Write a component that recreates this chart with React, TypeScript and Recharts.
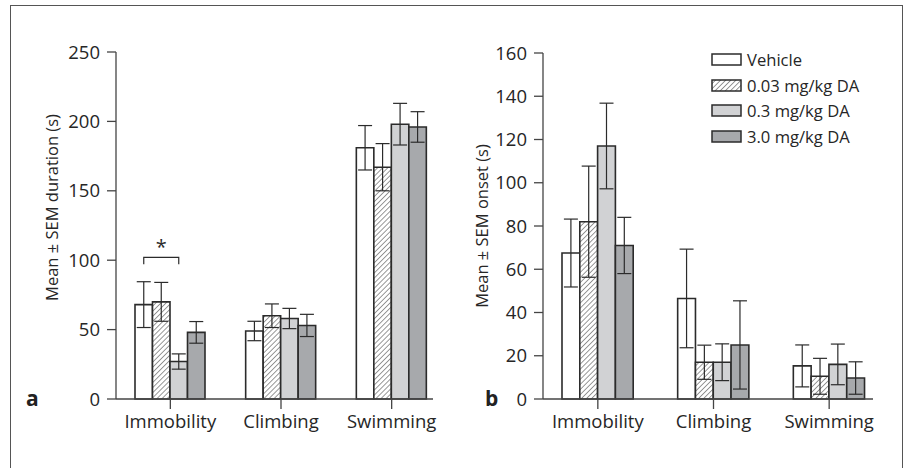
import React from 'react';
import { BarChart, Bar, XAxis, YAxis, ErrorBar, LabelList } from 'recharts';

const categories = ['Immobility', 'Climbing', 'Swimming'];
const groupNames = ['Vehicle', '0.03 mg/kg DA', '0.3 mg/kg DA', '3.0 mg/kg DA'];

// duration (s), panel a
const durVehicle = [68, 49, 181];
const durVehicleSem = [16.5, 7, 16];
const durLow = [70, 60, 167];
const durLowSem = [14, 8.5, 17];
const durMid = [27, 58, 198];
const durMidSem = [5.5, 7.3, 15];
const durHigh = [48, 53, 196];
const durHighSem = [7.8, 8, 11];

// onset (s), panel b
const onsVehicle = [67.5, 46.5, 15.3];
const onsVehicleSem = [15.7, 22.8, 9.7];
const onsLow = [82, 17, 10.5];
const onsLowSem = [25.7, 7.9, 8.3];
const onsMid = [117, 17, 16];
const onsMidSem = [19.8, 8.5, 9.4];
const onsHigh = [71, 25, 9.7];
const onsHighSem = [13, 20.4, 7.5];

const durTicks = [0, 50, 100, 150, 200, 250];
const onsTicks = [0, 20, 40, 60, 80, 100, 120, 140, 160];

const keys = ['vehicle', 'low', 'mid', 'high'];
const fills = ['#ffffff', 'url(#hatch)', '#d1d2d4', '#a7a9ac'];

const durData = categories.map((name, i) => ({
  name,
  vehicle: durVehicle[i], vehicleErr: durVehicleSem[i],
  low: durLow[i], lowErr: durLowSem[i],
  mid: durMid[i], midErr: durMidSem[i],
  high: durHigh[i], highErr: durHighSem[i],
}));

const onsData = categories.map((name, i) => ({
  name,
  vehicle: onsVehicle[i], vehicleErr: onsVehicleSem[i],
  low: onsLow[i], lowErr: onsLowSem[i],
  mid: onsMid[i], midErr: onsMidSem[i],
  high: onsHigh[i], highErr: onsHighSem[i],
}));

const FONT = '"Open Sans", sans-serif';
const INK = '#2b2b2b';
const AXIS = '#444';
const TEXT = '#262626';

const tickStyle = { fontSize: 18.5, fill: TEXT, fontFamily: FONT };

// significance bracket between vehicle and 0.3 mg/kg on Immobility
const Bracket = (props: any) => {
  const { x, y, width, height, value, index } = props;
  if (index !== 0) return null;
  const perUnit = height / value;
  const zeroY = y + height;
  const top = zeroY - 102 * perUnit;
  const leg = zeroY - 97 * perUnit;
  const x1 = x + width / 2;
  const x2 = x + width * 2.5;
  return (
    <g>
      <path d={`M${x1},${leg} L${x1},${top} L${x2},${top} L${x2},${leg}`} fill="none" stroke={INK} strokeWidth={1.2} />
      <text x={(x1 + x2) / 2} y={top - 3} textAnchor="middle" fontSize={20} fontFamily={FONT} fill={INK}>*</text>
    </g>
  );
};

const LegendBox = () => (
  <div style={{ position: 'absolute', left: 711, top: 47, fontFamily: FONT, fontSize: 16.6, color: TEXT, lineHeight: '25.5px' }}>
    {groupNames.map((g, i) => (
      <div key={g} style={{ display: 'flex', alignItems: 'center', height: 25.5 }}>
        <svg width={31} height={13} style={{ marginRight: 5 }}>
          <rect x={1} y={1} width={29} height={11} fill={fills[i]} stroke={INK} strokeWidth={1.5} />
        </svg>
        <span>{g}</span>
      </div>
    ))}
  </div>
);

const yLabel = (text: string, dxLabel: number, dyLabel: number) => (props: any) => {
  const { viewBox } = props;
  const cx = viewBox.x + dxLabel;
  const cy = viewBox.y + viewBox.height / 2 + dyLabel;
  return (
    <text x={cx} y={cy} transform={`rotate(-90, ${cx}, ${cy})`} textAnchor="middle" dominantBaseline="central"
      fontSize={16.5} fontFamily={FONT} fill={TEXT}>{text}</text>
  );
};

const bars = (withBracket: boolean) =>
  keys.map((k, i) => (
    <Bar key={k} dataKey={k} fill={fills[i]} stroke={INK} strokeWidth={1.6} isAnimationActive={false}>
      <ErrorBar dataKey={`${k}Err`} width={7} stroke={INK} strokeWidth={1.2} direction="y" isAnimationActive={false} />
      {withBracket && k === 'vehicle' ? <LabelList dataKey={k} content={Bracket} /> : null}
    </Bar>
  ));

export default function App() {
  return (
    <div style={{ position: 'absolute', left: 0, top: 0, width: 912, height: 468, overflow: 'hidden', background: '#fff' }}>
      <svg width={0} height={0} style={{ position: 'absolute' }}>
        <defs>
          <pattern id="hatch" patternUnits="userSpaceOnUse" width={3.6} height={3.6} patternTransform="rotate(45)">
            <rect width={3.6} height={3.6} fill="#fff" />
            <line x1={0} y1={0} x2={0} y2={3.6} stroke="#333" strokeWidth={1} />
          </pattern>
        </defs>
      </svg>

      <div style={{ position: 'absolute', left: 10, top: 5, width: 891, height: 480, border: '1px solid #555' }} />

      <div style={{ position: 'absolute', left: 0, top: 0 }}>
        <BarChart width={460} height={468} data={durData} barGap={0} barSize={17.5}
          margin={{ top: 52, right: 27, left: 40, bottom: 29 }}>
          <XAxis dataKey="name" tick={tickStyle} tickSize={10} tickMargin={6} padding={{ left: -1, right: -14 }}
            axisLine={{ stroke: AXIS, strokeWidth: 1.3 }} tickLine={{ stroke: AXIS, strokeWidth: 1.3 }} height={40} interval={0} />
          <YAxis domain={[0, 250]} ticks={durTicks} width={76} tick={tickStyle} tickSize={9} tickMargin={7}
            axisLine={{ stroke: AXIS, strokeWidth: 1.3 }} tickLine={{ stroke: AXIS, strokeWidth: 1.3 }}
            label={{ content: yLabel('Mean ± SEM duration (s)', 11, -18) }} />
          {bars(true)}
        </BarChart>
      </div>

      <div style={{ position: 'absolute', left: 460, top: 0 }}>
        <BarChart width={452} height={468} data={onsData} barGap={0} barSize={17.8}
          margin={{ top: 53, right: 39, left: 7, bottom: 29 }}>
          <XAxis dataKey="name" tick={tickStyle} tickSize={10} tickMargin={6} padding={{ left: -3, right: -14 }}
            axisLine={{ stroke: AXIS, strokeWidth: 1.3 }} tickLine={{ stroke: AXIS, strokeWidth: 1.3 }} height={40} interval={0} />
          <YAxis domain={[0, 160]} ticks={onsTicks} width={76} tick={tickStyle} tickSize={9} tickMargin={7}
            axisLine={{ stroke: AXIS, strokeWidth: 1.3 }} tickLine={{ stroke: AXIS, strokeWidth: 1.3 }}
            label={{ content: yLabel('Mean ± SEM onset (s)', 14, 0) }} />
          {bars(false)}
        </BarChart>
      </div>

      <LegendBox />

      <div style={{ position: 'absolute', left: 26, top: 384, fontFamily: FONT, fontWeight: 700, fontSize: 21, color: '#222' }}>a</div>
      <div style={{ position: 'absolute', left: 485, top: 384, fontFamily: FONT, fontWeight: 700, fontSize: 21, color: '#222' }}>b</div>
    </div>
  );
}
